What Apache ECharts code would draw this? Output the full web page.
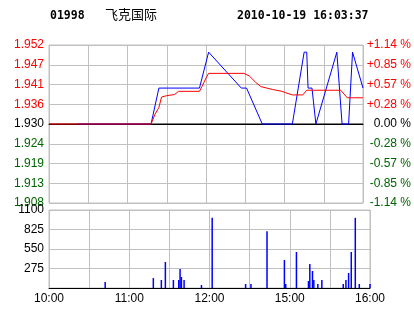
<!DOCTYPE html>
<html>
<head>
<meta charset="utf-8">
<script src="https://cdn.jsdelivr.net/npm/echarts@6/dist/echarts.min.js"></script>
<style>html,body{margin:0;padding:0;background:#fff}#c{width:414px;height:314px}</style>
</head>
<body>
<div id="c"></div>
<script>
// ---- data ----
var stockCode = '01998';
var stockName = '飞克国际';
var stamp = '2010-10-19 16:03:37';
var prevClose = 1.930;
var rowStep = 0.0055;            // price per grid row
var priceTicks = ['1.908','1.913','1.919','1.924','1.930','1.936','1.941','1.947','1.952'];
var pctTicks = ['-1.14 %','-0.85 %','-0.57 %','-0.28 %','0.00 %','+0.28 %','+0.57 %','+0.85 %','+1.14 %'];
var timeTicks = ['10:00','','11:00','','12:00','','15:00','','16:00'];
var volTicks = ['','275','550','825','1100'];
// minute index (0 = 10:00, 150 = 14:30, 240 = 16:00), last price
var priceSeries = [[22,1.93],[78,1.93],[84,1.94],[115,1.94],[122,1.95],[147,1.94],[151,1.94],[163,1.93],
  [186,1.93],[195,1.95],[197,1.95],[198,1.94],[201,1.94],[204,1.93],[220,1.95],[224,1.93],[229,1.93],
  [232,1.95],[240,1.94]];
// minute index, average price
var avgSeries = [[0,1.930],[78,1.930],[81,1.9327],[84,1.9346],[86,1.9375],[90,1.9379],[96,1.9382],[99,1.9391],
  [115,1.9391],[117,1.9405],[120,1.9428],[122,1.9441],[149,1.9441],[153,1.9434],[158,1.9416],[162,1.9404],
  [171,1.9396],[178,1.9391],[181,1.9387],[186,1.9381],[194,1.9381],[197,1.9394],[223,1.9394],[228,1.9373],
  [240,1.9373]];
// minute index, volume
var volSeries = [[42,85],[78,140],[84,113],[87,367],[93,113],[97,113],[98,268],[99,155],[101,113],[114,42],
  [122,990],[147,56],[151,56],[163,800],[176,395],[177,56],[185,508],[194,99],[195,338],[197,240],[198,113],
  [201,56],[204,113],[220,56],[222,113],[224,212],[226,508],[229,990],[232,56],[240,56]];

// ---- chart ----
function toRow(p){ return (p - prevClose) / rowStep; }
function conv(arr){ return arr.map(function(d){ return [d[0], toRow(d[1])]; }); }
var GRID = '#c0c0c0', GREEN = '#006400', RED = '#ff0000';
var FONT = 'Liberation Sans, Arial, sans-serif';
function rowColor(v){ v = Math.round(v); return v > 0 ? RED : (v < 0 ? GREEN : '#000'); }

var chart = echarts.init(document.getElementById('c'), null, {renderer:'canvas'});
chart.setOption({
  animation: false,
  backgroundColor: '#fff',
  title: [
    {text: stockCode, left: 50, top: 10, padding: 0,
     textStyle: {fontFamily: 'DejaVu Sans Mono', fontWeight: 'bold', fontSize: 11.5, color: '#000'}},
    {text: stockName, left: 105, top: 8, padding: 0,
     textStyle: {fontFamily: 'Noto Sans CJK SC', fontWeight: 'normal', fontSize: 13, color: '#000'}},
    {text: stamp, left: 237, top: 10, padding: 0,
     textStyle: {fontFamily: 'DejaVu Sans Mono', fontWeight: 'bold', fontSize: 11.5, color: '#000'}}
  ],
  grid: [
    {left: 49, right: 44, top: 45, height: 158, show: true, borderColor: GRID, borderWidth: 1},
    {left: 49, right: 44, top: 210, height: 78, show: true, borderColor: GRID, borderWidth: 1}
  ],
  xAxis: [
    {type: 'value', gridIndex: 0, min: 0, max: 240, interval: 30,
     axisLine: {show: true, lineStyle: {color: '#000', width: 1}},
     axisTick: {show: false}, axisLabel: {show: false},
     splitLine: {show: true, lineStyle: {color: GRID, width: 1}}},
    {type: 'value', gridIndex: 1, min: 0, max: 240, interval: 30,
     axisLine: {show: true, lineStyle: {color: '#000', width: 1}},
     axisTick: {show: false},
     splitLine: {show: true, lineStyle: {color: GRID, width: 1}},
     axisLabel: {show: true, margin: 5, fontSize: 12, fontFamily: FONT, color: '#000',
       showMinLabel: true, showMaxLabel: true,
       formatter: function(v){ return timeTicks[Math.round(v / 30)] || ''; }}}
  ],
  yAxis: [
    {type: 'value', gridIndex: 0, min: -4, max: 4, interval: 1, position: 'left',
     axisLine: {show: false}, axisTick: {show: false},
     splitLine: {show: true, lineStyle: {color: GRID, width: 1}},
     axisLabel: {margin: 5, fontSize: 12, fontFamily: FONT, padding: [4,0,0,0],
       showMinLabel: true, showMaxLabel: true,
       color: function(v){ return rowColor(Number(v)); },
       formatter: function(v){ return priceTicks[Math.round(v) + 4]; }}},
    {type: 'value', gridIndex: 0, min: -4, max: 4, interval: 1, position: 'right',
     axisLine: {show: false}, axisTick: {show: false}, splitLine: {show: false},
     axisLabel: {margin: 48, align: 'right', fontSize: 12, fontFamily: FONT, padding: [4,0,0,0],
       showMinLabel: true, showMaxLabel: true,
       color: function(v){ return rowColor(Number(v)); },
       formatter: function(v){ return pctTicks[Math.round(v) + 4]; }}},
    {type: 'value', gridIndex: 1, min: 0, max: 1100, interval: 275,
     axisLine: {show: false}, axisTick: {show: false},
     splitLine: {show: true, lineStyle: {color: GRID, width: 1}},
     axisLabel: {margin: 5, fontSize: 12, fontFamily: FONT, color: '#000', padding: [5,0,0,0],
       showMinLabel: true, showMaxLabel: true,
       formatter: function(v){ return volTicks[Math.round(v / 275)]; }}}
  ],
  series: [
    {type: 'line', xAxisIndex: 0, yAxisIndex: 0, data: conv([[0, prevClose],[240, prevClose]]),
     symbol: 'none', silent: true, z: 1, lineStyle: {color: '#000', width: 1}},
    {type: 'line', xAxisIndex: 0, yAxisIndex: 0, data: conv(priceSeries),
     symbol: 'none', z: 3, lineStyle: {color: '#0000ff', width: 1}},
    {type: 'line', xAxisIndex: 0, yAxisIndex: 0, data: conv(avgSeries),
     symbol: 'none', z: 4, lineStyle: {color: RED, width: 1}},
    {type: 'bar', xAxisIndex: 1, yAxisIndex: 2, data: volSeries, barWidth: 1.5,
     itemStyle: {color: '#0000ff'}}
  ]
});
</script>
</body>
</html>
